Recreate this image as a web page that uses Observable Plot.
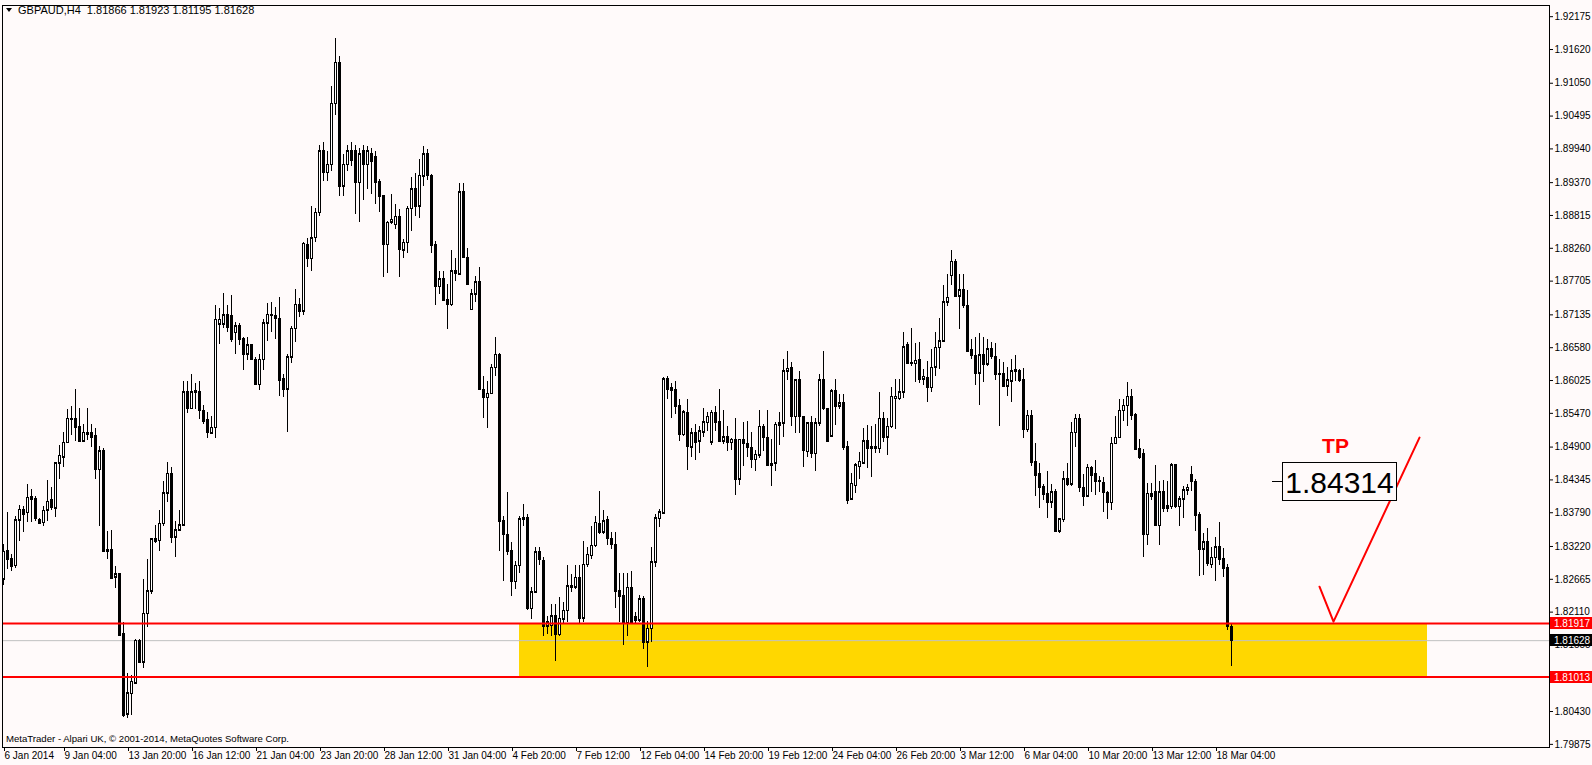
<!DOCTYPE html>
<html><head><meta charset="utf-8">
<script src="https://cdn.jsdelivr.net/npm/d3@7"></script>
<script src="https://cdn.jsdelivr.net/npm/@observablehq/plot@0.6"></script>
<style>
html,body{margin:0;padding:0;background:#FFFAFA;}
#chart{width:1592px;height:765px;overflow:hidden;}
</style></head><body><div id="chart"></div>
<script>
// ---- data: GBPAUD H4 candles (bar index = position) ----
const open = [
1.8267,1.8314,1.8300,1.8289,1.8366,1.8384,1.8379,1.8406,1.8403,1.8367,
1.8362,1.8383,1.8400,1.8387,1.8463,1.8473,1.8497,1.8538,1.8537,1.8524,
1.8500,1.8514,1.8514,1.8508,1.8452,1.8483,1.8316,1.8316,1.8270,1.8276,
1.8174,1.8038,1.8073,1.8091,1.8163,1.8126,1.8208,1.8246,1.8334,1.8332,
1.8360,1.8412,1.8445,1.8338,1.8349,1.8358,1.8583,1.8555,1.8584,1.8583,
1.8551,1.8536,1.8513,1.8523,1.8698,1.8698,1.8713,1.8711,1.8683,1.8694,
1.8672,1.8647,1.8662,1.8638,1.8595,1.8638,1.8699,1.8714,1.8712,1.8706,
1.8605,1.8588,1.8642,1.8690,1.8731,1.8720,1.8832,1.8808,1.8844,1.8886,
1.8990,1.8954,1.8967,1.9070,1.9140,1.8931,1.8967,1.8990,1.8990,1.8937,
1.8990,1.8967,1.8985,1.8980,1.8938,1.8914,1.8832,1.8870,1.8866,1.8879,
1.8823,1.8835,1.8893,1.8926,1.8897,1.8948,1.8985,1.8949,1.8831,1.8761,
1.8774,1.8739,1.8731,1.8787,1.8782,1.8921,1.8810,1.8722,1.8748,1.8769,
1.8587,1.8573,1.8580,1.8624,1.8646,1.8365,1.8342,1.8314,1.8262,1.8289,
1.8368,1.8370,1.8217,1.8245,1.8312,1.8297,1.8187,1.8188,1.8204,1.8173,
1.8199,1.8213,1.8253,1.8253,1.8269,1.8201,1.8291,1.8306,1.8323,1.8360,
1.8346,1.8366,1.8335,1.8325,1.8246,1.8239,1.8193,1.8252,1.8202,1.8197,
1.8233,1.8160,1.8183,1.8295,1.8369,1.8378,1.8605,1.8590,1.8587,1.8560,
1.8511,1.8547,1.8490,1.8513,1.8500,1.8515,1.8531,1.8498,1.8547,1.8532,
1.8500,1.8507,1.8497,1.8502,1.8436,1.8502,1.8496,1.8489,1.8469,1.8476,
1.8524,1.8506,1.8462,1.8463,1.8527,1.8530,1.8618,1.8624,1.8541,1.8603,
1.8541,1.8482,1.8530,1.8479,1.8530,1.8604,1.8555,1.8508,1.8584,1.8559,
1.8564,1.8490,1.8402,1.8425,1.8457,1.8463,1.8500,1.8490,1.8490,1.8487,
1.8538,1.8507,1.8524,1.8572,1.8572,1.8583,1.8662,1.8632,1.8631,1.8638,
1.8605,1.8607,1.8590,1.8625,1.8658,1.8669,1.8735,1.8780,1.8803,1.8745,
1.8755,1.8729,1.8654,1.8644,1.8615,1.8645,1.8630,1.8655,1.8643,1.8614,
1.8614,1.8593,1.8601,1.8620,1.8618,1.8604,1.8519,1.8543,1.8464,1.8444,
1.8422,1.8410,1.8397,1.8414,1.8348,1.8367,1.8436,1.8427,1.8514,1.8538,
1.8421,1.8407,1.8455,1.8444,1.8432,1.8430,1.8413,1.8396,1.8496,1.8506,
1.8551,1.8560,1.8575,1.8545,1.8487,1.8479,1.8342,1.8410,1.8414,1.8357,
1.8414,1.8390,1.8389,1.8459,1.8389,1.8402,1.8417,1.8442,1.8431,1.8376,
1.8317,1.8329,1.8291,1.8303,1.8321,1.8300,1.8285,1.81866];
const high = [
1.8325,1.8380,1.8308,1.8373,1.8391,1.8390,1.8427,1.8418,1.8407,1.8369,
1.8390,1.8433,1.8421,1.8463,1.8493,1.8514,1.8553,1.8558,1.8588,1.8556,
1.8528,1.8556,1.8528,1.8522,1.8491,1.8487,1.8348,1.8349,1.8288,1.8276,
1.8193,1.8107,1.8104,1.8164,1.8164,1.8267,1.8300,1.8335,1.8358,1.8382,
1.8431,1.8464,1.8456,1.8364,1.8382,1.8601,1.8601,1.8612,1.8598,1.8601,
1.8560,1.8549,1.8542,1.8729,1.8724,1.8750,1.8729,1.8746,1.8701,1.8699,
1.8676,1.8676,1.8664,1.8642,1.8646,1.8705,1.8733,1.8735,1.8726,1.8742,
1.8613,1.8646,1.8694,1.8757,1.8741,1.8835,1.8843,1.8897,1.8894,1.9000,
1.9005,1.8990,1.9100,1.9181,1.9150,1.8985,1.9000,1.9005,1.9000,1.8995,
1.9000,1.8998,1.8995,1.8990,1.8942,1.8914,1.8872,1.8917,1.8900,1.8891,
1.8841,1.8897,1.8945,1.8953,1.8976,1.8998,1.8993,1.8951,1.8838,1.8787,
1.8787,1.8765,1.8823,1.8808,1.8935,1.8935,1.8825,1.8756,1.8779,1.8793,
1.8610,1.8601,1.8629,1.8675,1.8649,1.8373,1.8413,1.8329,1.8297,1.8372,
1.8393,1.8376,1.8252,1.8320,1.8320,1.8303,1.8204,1.8224,1.8224,1.8235,
1.8227,1.8290,1.8275,1.8290,1.8290,1.8331,1.8320,1.8356,1.8373,1.8415,
1.8382,1.8373,1.8345,1.8345,1.8277,1.8277,1.8277,1.8280,1.8210,1.8239,
1.8237,1.8196,1.8320,1.8376,1.8384,1.8607,1.8610,1.8597,1.8601,1.8571,
1.8551,1.8571,1.8521,1.8528,1.8524,1.8556,1.8549,1.8551,1.8559,1.8587,
1.8551,1.8525,1.8505,1.8538,1.8503,1.8532,1.8534,1.8515,1.8485,1.8551,
1.8528,1.8551,1.8503,1.8532,1.8548,1.8638,1.8652,1.8633,1.8605,1.8618,
1.8542,1.8531,1.8542,1.8539,1.8613,1.8652,1.8556,1.8588,1.8604,1.8579,
1.8579,1.8500,1.8445,1.8463,1.8481,1.8522,1.8526,1.8524,1.8528,1.8583,
1.8549,1.8538,1.8590,1.8605,1.8605,1.8684,1.8666,1.8691,1.8665,1.8666,
1.8621,1.8635,1.8655,1.8684,1.8708,1.8763,1.8782,1.8823,1.8807,1.8782,
1.8782,1.8755,1.8671,1.8675,1.8682,1.8675,1.8672,1.8666,1.8665,1.8638,
1.8633,1.8624,1.8638,1.8644,1.8621,1.8622,1.8551,1.8551,1.8496,1.8462,
1.8427,1.8448,1.8427,1.8419,1.8370,1.8448,1.8463,1.8531,1.8545,1.8545,
1.8444,1.8460,1.8458,1.8468,1.8441,1.8438,1.8415,1.8507,1.8542,1.8570,
1.8570,1.8600,1.8587,1.8547,1.8502,1.8486,1.8429,1.8429,1.8459,1.8432,
1.8434,1.8432,1.8463,1.8461,1.8406,1.8424,1.8427,1.8458,1.8436,1.8379,
1.8344,1.8352,1.8320,1.8337,1.8362,1.8318,1.8292,1.81923];
const low = [
1.8256,1.8283,1.8280,1.8284,1.8331,1.8345,1.8362,1.8362,1.8365,1.8359,
1.8355,1.8365,1.8383,1.8371,1.8436,1.8455,1.8497,1.8510,1.8500,1.8497,
1.8497,1.8501,1.8489,1.8435,1.8356,1.8311,1.8300,1.8267,1.8251,1.8169,
1.8033,1.8031,1.8037,1.8088,1.8124,1.8115,1.8185,1.8241,1.8327,1.8313,
1.8356,1.8397,1.8327,1.8304,1.8349,1.8356,1.8546,1.8553,1.8553,1.8536,
1.8528,1.8505,1.8512,1.8505,1.8664,1.8690,1.8683,1.8667,1.8646,1.8662,
1.8620,1.8637,1.8637,1.8595,1.8586,1.8620,1.8668,1.8683,1.8672,1.8575,
1.8573,1.8514,1.8631,1.8667,1.8709,1.8713,1.8793,1.8787,1.8835,1.8880,
1.8939,1.8939,1.8955,1.9050,1.8914,1.8914,1.8955,1.8965,1.8883,1.8869,
1.8906,1.8925,1.8917,1.8900,1.8886,1.8776,1.8784,1.8866,1.8858,1.8776,
1.8808,1.8818,1.8855,1.8880,1.8877,1.8931,1.8940,1.8818,1.8729,1.8748,
1.8738,1.8688,1.8728,1.8770,1.8782,1.8808,1.8763,1.8721,1.8734,1.8586,
1.8539,1.8521,1.8579,1.8610,1.8314,1.8263,1.8306,1.8238,1.8249,1.8277,
1.8356,1.8213,1.8199,1.8244,1.8289,1.8170,1.8173,1.8170,1.8128,1.8170,
1.8190,1.8193,1.8244,1.8249,1.8190,1.8194,1.8287,1.8300,1.8320,1.8342,
1.8342,1.8324,1.8317,1.8217,1.8193,1.8154,1.8170,1.8193,1.8190,1.8194,
1.8148,1.8117,1.8159,1.8287,1.8354,1.8376,1.8571,1.8538,1.8545,1.8500,
1.8508,1.8451,1.8473,1.8468,1.8479,1.8507,1.8517,1.8493,1.8517,1.8498,
1.8494,1.8483,1.8485,1.8408,1.8425,1.8458,1.8472,1.8453,1.8449,1.8470,
1.8483,1.8457,1.8423,1.8448,1.8493,1.8506,1.8603,1.8524,1.8513,1.8513,
1.8455,1.8472,1.8470,1.8449,1.8525,1.8551,1.8498,1.8506,1.8526,1.8553,
1.8485,1.8393,1.8400,1.8412,1.8436,1.8462,1.8453,1.8438,1.8479,1.8479,
1.8498,1.8476,1.8521,1.8520,1.8569,1.8572,1.8630,1.8627,1.8599,1.8597,
1.8594,1.8565,1.8582,1.8610,1.8621,1.8666,1.8728,1.8763,1.8742,1.8688,
1.8724,1.8650,1.8638,1.8594,1.8560,1.8599,1.8627,1.8638,1.8603,1.8525,
1.8590,1.8576,1.8566,1.8601,1.8599,1.8504,1.8515,1.8457,1.8407,1.8387,
1.8399,1.8370,1.8386,1.8345,1.8344,1.8363,1.8424,1.8424,1.8489,1.8413,
1.8389,1.8406,1.8413,1.8408,1.8413,1.8379,1.8368,1.8383,1.8494,1.8504,
1.8534,1.8525,1.8535,1.8485,1.8469,1.8303,1.8324,1.8400,1.8356,1.8324,
1.8380,1.8379,1.8384,1.8386,1.8356,1.8370,1.8408,1.8415,1.8348,1.8272,
1.8273,1.8288,1.8284,1.8262,1.8290,1.8270,1.8180,1.81195];
const close = [
1.8313,1.8300,1.8288,1.8366,1.8384,1.8376,1.8404,1.8402,1.8369,1.8361,
1.8382,1.8398,1.8388,1.8463,1.8475,1.8497,1.8538,1.8537,1.8523,1.8500,
1.8514,1.8512,1.8507,1.8452,1.8483,1.8314,1.8314,1.8268,1.8275,1.8172,
1.8037,1.8074,1.8093,1.8163,1.8126,1.8208,1.8246,1.8334,1.8331,1.8360,
1.8412,1.8445,1.8338,1.8349,1.8358,1.8583,1.8555,1.8583,1.8582,1.8551,
1.8534,1.8514,1.8523,1.8705,1.8705,1.8713,1.8692,1.8672,1.8694,1.8672,
1.8647,1.8662,1.8638,1.8595,1.8638,1.8699,1.8714,1.8713,1.8707,1.8603,
1.8588,1.8642,1.8690,1.8731,1.8720,1.8834,1.8809,1.8843,1.8886,1.8990,
1.8954,1.8967,1.9070,1.9140,1.8931,1.8967,1.8990,1.8975,1.8937,1.8985,
1.8967,1.8990,1.8973,1.8938,1.8914,1.8832,1.8869,1.8874,1.8879,1.8824,
1.8835,1.8893,1.8926,1.8897,1.8949,1.8985,1.8949,1.8831,1.8761,1.8774,
1.8738,1.8731,1.8787,1.8783,1.8921,1.8810,1.8765,1.8748,1.8769,1.8587,
1.8573,1.8580,1.8624,1.8646,1.8365,1.8342,1.8314,1.8262,1.8289,1.8368,
1.8370,1.8217,1.8245,1.8312,1.8300,1.8187,1.8194,1.8204,1.8173,1.8200,
1.8213,1.8255,1.8255,1.8269,1.8201,1.8291,1.8308,1.8323,1.8362,1.8346,
1.8365,1.8335,1.8325,1.8246,1.8238,1.8193,1.8252,1.8193,1.8197,1.8233,
1.8160,1.8183,1.8295,1.8370,1.8380,1.8605,1.8588,1.8586,1.8559,1.8511,
1.8549,1.8491,1.8513,1.8498,1.8517,1.8532,1.8541,1.8548,1.8532,1.8500,
1.8507,1.8497,1.8502,1.8436,1.8502,1.8496,1.8489,1.8469,1.8477,1.8524,
1.8506,1.8459,1.8459,1.8528,1.8530,1.8618,1.8622,1.8541,1.8603,1.8541,
1.8485,1.8530,1.8479,1.8530,1.8603,1.8555,1.8500,1.8584,1.8559,1.8564,
1.8489,1.8400,1.8428,1.8459,1.8465,1.8500,1.8487,1.8488,1.8488,1.8538,
1.8507,1.8524,1.8575,1.8575,1.8583,1.8659,1.8632,1.8631,1.8636,1.8604,
1.8609,1.8590,1.8624,1.8658,1.8669,1.8735,1.8742,1.8803,1.8745,1.8755,
1.8729,1.8652,1.8644,1.8615,1.8645,1.8630,1.8655,1.8643,1.8613,1.8613,
1.8593,1.8603,1.8618,1.8617,1.8603,1.8519,1.8543,1.8464,1.8442,1.8421,
1.8410,1.8397,1.8414,1.8348,1.8368,1.8436,1.8427,1.8514,1.8538,1.8421,
1.8407,1.8455,1.8442,1.8431,1.8431,1.8413,1.8396,1.8496,1.8506,1.8551,
1.8560,1.8575,1.8543,1.8486,1.8472,1.8342,1.8411,1.8407,1.8357,1.8414,
1.8387,1.8387,1.8459,1.8389,1.8402,1.8417,1.8421,1.8431,1.8374,1.8317,
1.8329,1.8293,1.8303,1.8321,1.8300,1.8285,1.8187,1.81628];

// time axis labels and the bar index they sit on
const dateLabels = ["6 Jan 2014","9 Jan 04:00","13 Jan 20:00","16 Jan 12:00","21 Jan 04:00","23 Jan 20:00","28 Jan 12:00","31 Jan 04:00","4 Feb 20:00","7 Feb 12:00","12 Feb 04:00","14 Feb 20:00","19 Feb 12:00","24 Feb 04:00","26 Feb 20:00","3 Mar 12:00","6 Mar 04:00","10 Mar 20:00","13 Mar 12:00","18 Mar 04:00"];
const dateBars = [0,15,31,47,63,79,95,111,127,143,159,175,191,207,223,239,255,271,287,303];
// price axis labels (1.81000 sits under the 1.81013 tag and is not shown)
const priceTicks = [1.92175,1.91620,1.91050,1.90495,1.89940,1.89370,1.88815,1.88260,1.87705,1.87135,1.86580,1.86025,1.85470,1.84900,1.84345,1.83790,1.83220,1.82665,1.82110,1.81555,1.80430,1.79875];
// objects drawn on chart
const levelPrices = [1.81917, 1.81013];
const bidPrice = 1.81628;
const zoneBars = [129, 356];
const zonePrices = [1.81013, 1.81917];
const tpPathBars = [329, 332.5, 354];
const tpPathPrices = [1.8254, 1.8195, 1.8506];
const tpLabelBar = 334, tpLabelPrice = 1.84314;
const tpTextBar = 333, tpTextPrice = 1.8491;
const symbolTitle = "GBPAUD,H4  1.81866 1.81923 1.81195 1.81628";
const copyright = "MetaTrader - Alpari UK, \u00A9 2001-2014, MetaQuotes Software Corp.";

// ---- drawing ----
const FONT = "'Liberation Sans', Arial, sans-serif";
const BG = "#FFFAFA";
const idx = d3.range(open.length);
const labelOf = new Map(dateBars.map((b, k) => [b, dateLabels[k]]));

function rightTags(index, scales, values, dims) {
  const g = d3.create("svg:g").attr("font-family", FONT).attr("font-size", 10).attr("text-anchor", "start");
  const xr = dims.width - dims.marginRight;
  const tags = [[levelPrices[0], "#FF0000"], [levelPrices[1], "#FF0000"], [bidPrice, "#000000"]];
  for (const [p, c] of tags) {
    const y = Math.round(scales.y(p));
    g.append("rect").attr("x", xr + 1).attr("y", y - 6).attr("width", dims.marginRight - 1).attr("height", 12).attr("fill", c);
    g.append("text").attr("x", xr + 5).attr("y", y).attr("dy", "0.36em").attr("fill", "#fff").text(p.toFixed(5));
  }
  return g.node();
}

function tpBox(index, scales, values, dims) {
  const g = d3.create("svg:g").attr("font-family", FONT);
  const x = Math.round(scales.x(tpLabelBar)), y = Math.round(scales.y(tpLabelPrice));
  g.append("line").attr("x1", x - 67).attr("x2", x - 57).attr("y1", y + 0.5).attr("y2", y + 0.5).attr("stroke", "#000");
  g.append("rect").attr("x", x - 56.5).attr("y", y - 18.5).attr("width", 114).attr("height", 38).attr("fill", BG).attr("stroke", "#000");
  g.append("text").attr("x", x + 0.5).attr("y", y + 1).attr("dy", "0.36em").attr("text-anchor", "middle").attr("font-size", 30).attr("fill", "#000").text(tpLabelPrice.toFixed(5));
  return g.node();
}

function titleMark(index, scales, values, dims) {
  const g = d3.create("svg:g").attr("font-family", FONT).attr("fill", "#000").attr("text-anchor", "start");
  g.append("path").attr("d", "M6,8 L12,8 L9,12 Z");
  g.append("text").attr("x", 18).attr("y", 10.5).attr("dy", "0.36em").attr("font-size", 11).text(symbolTitle);
  g.append("text").attr("x", 6).attr("y", dims.height - dims.marginBottom - 8).attr("dy", "0.36em").attr("font-size", 9.6).text(copyright);
  return g.node();
}

const chart = Plot.plot({
  width: 1592, height: 765,
  marginLeft: 2, marginRight: 43, marginTop: 5, marginBottom: 18,
  style: {background: BG, fontFamily: FONT, fontSize: "10px", color: "#000", overflow: "visible"},
  x: {domain: [-0.25, 386.5], axis: null},
  y: {domain: [1.79822, 1.92364], axis: null},
  marks: [
    Plot.rect([0], {x1: () => zoneBars[0], x2: () => zoneBars[1], y1: () => zonePrices[0], y2: () => zonePrices[1], fill: "#FFD700"}),
    Plot.ruleY([bidPrice], {stroke: "#C0C0C0"}),
    Plot.ruleX(idx, {x: i => i, y1: i => low[i], y2: i => high[i], stroke: "#000", shapeRendering: "crispEdges"}),
    Plot.rect(idx, {x1: i => i - 0.25, x2: i => i + 0.25, y1: i => open[i], y2: i => close[i],
      fill: i => close[i] >= open[i] ? "#FFFFFF" : "#000000", stroke: "#000", shapeRendering: "crispEdges"}),
    Plot.ruleY(idx, {y: i => open[i], x1: i => i - 0.375, x2: i => i + 0.375, stroke: "#000", shapeRendering: "crispEdges"}),
    Plot.ruleY(idx, {y: i => close[i], x1: i => i - 0.375, x2: i => i + 0.375, stroke: "#000", shapeRendering: "crispEdges"}),
    Plot.ruleY(levelPrices, {stroke: "#FF0000", strokeWidth: 2}),
    Plot.line(tpPathBars.map((b, k) => [b, tpPathPrices[k]]), {x: d => d[0], y: d => d[1], stroke: "#FF0000", strokeWidth: 2}),
    Plot.text(["TP"], {x: () => tpTextBar, y: () => tpTextPrice, fill: "#FF0000", fontSize: 21, fontWeight: "bold", fontFamily: FONT}),
    tpBox,
    Plot.frame({stroke: "#000"}),
    Plot.axisY(priceTicks, {anchor: "right", tickSize: 3, tickPadding: 2, tickFormat: d => d.toFixed(5), fontSize: 10, fill: "#000", stroke: "#000"}),
    Plot.axisX(dateBars, {anchor: "bottom", tickSize: 4, tickPadding: 0, textAnchor: "start", dx: 1, tickFormat: d => labelOf.get(d), fontSize: 10}),
    rightTags,
    titleMark
  ]
});
document.getElementById("chart").appendChild(chart);
</script></body></html>
